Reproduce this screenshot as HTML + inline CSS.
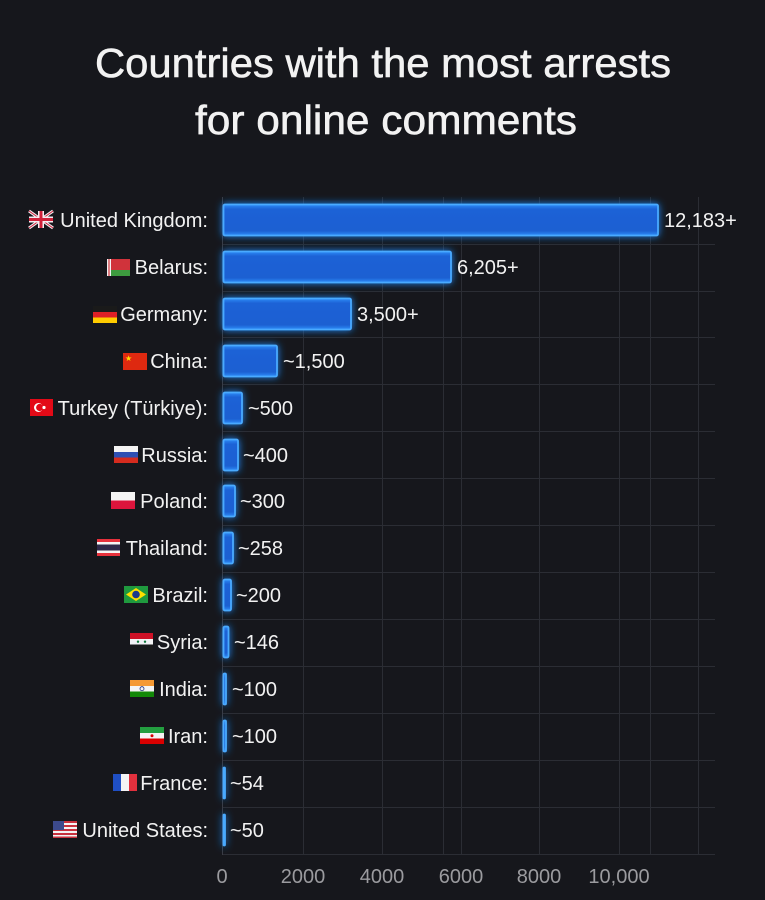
<!DOCTYPE html>
<html><head><meta charset="utf-8"><style>
html,body{margin:0;padding:0;background:#16171c;}
svg{display:block;}
text{font-family:"Liberation Sans",Arial,sans-serif;}
</style></head><body>
<svg width="765" height="900" viewBox="0 0 765 900" xmlns="http://www.w3.org/2000/svg">
<defs>
<filter id="glow" x="-50%" y="-50%" width="200%" height="200%">
<feGaussianBlur in="SourceAlpha" stdDeviation="4" result="b"/>
<feFlood flood-color="#1d8bff" flood-opacity="0.95"/>
<feComposite in2="b" operator="in" result="g"/>
<feMerge><feMergeNode in="g"/><feMergeNode in="SourceGraphic"/></feMerge>
</filter>
<linearGradient id="bar" x1="0" y1="0" x2="0" y2="1">
<stop offset="0" stop-color="#2e8cf8"/>
<stop offset="0.15" stop-color="#1d62d6"/>
<stop offset="0.85" stop-color="#1c60d2"/>
<stop offset="1" stop-color="#2e8cf8"/>
</linearGradient>
</defs>
<rect width="765" height="900" fill="#16171c"/>

<!-- Title -->
<text x="383" y="77" font-size="41" fill="#f2f2f2" stroke="#f2f2f2" stroke-width="0.6" text-anchor="middle" textLength="576" lengthAdjust="spacingAndGlyphs">Countries with the most arrests</text>
<text x="386" y="134" font-size="41" fill="#f2f2f2" stroke="#f2f2f2" stroke-width="0.6" text-anchor="middle" textLength="382" lengthAdjust="spacingAndGlyphs">for online comments</text>

<!-- Grid -->
<g stroke="#2b2d34" stroke-width="1">
<line x1="303.5" y1="197" x2="303.5" y2="855"/>
<line x1="382.5" y1="197" x2="382.5" y2="855"/>
<line x1="443.5" y1="197" x2="443.5" y2="855"/>
<line x1="461.5" y1="197" x2="461.5" y2="855"/>
<line x1="539.5" y1="197" x2="539.5" y2="855"/>
<line x1="619.5" y1="197" x2="619.5" y2="855"/>
<line x1="650.5" y1="197" x2="650.5" y2="855"/>
<line x1="698.5" y1="197" x2="698.5" y2="855"/>
<line x1="222" y1="244.5" x2="715" y2="244.5"/>
<line x1="222" y1="291.5" x2="715" y2="291.5"/>
<line x1="222" y1="337.5" x2="715" y2="337.5"/>
<line x1="222" y1="384.5" x2="715" y2="384.5"/>
<line x1="222" y1="431.5" x2="715" y2="431.5"/>
<line x1="222" y1="478.5" x2="715" y2="478.5"/>
<line x1="222" y1="525.5" x2="715" y2="525.5"/>
<line x1="222" y1="572.5" x2="715" y2="572.5"/>
<line x1="222" y1="619.5" x2="715" y2="619.5"/>
<line x1="222" y1="666.5" x2="715" y2="666.5"/>
<line x1="222" y1="713.5" x2="715" y2="713.5"/>
<line x1="222" y1="760.5" x2="715" y2="760.5"/>
<line x1="222" y1="807.5" x2="715" y2="807.5"/>
<line x1="222" y1="854.5" x2="715" y2="854.5"/>
</g>
<line x1="222.5" y1="197" x2="222.5" y2="855" stroke="#3a3c44" stroke-width="1"/>

<!-- Bars -->
<g filter="url(#glow)" fill="url(#bar)" stroke="#4aaaff" stroke-width="1.8">
<rect x="223.5" y="204.5" width="434.5" height="31" rx="1.5"/>
<rect x="223.5" y="251.5" width="227.5" height="31" rx="1.5"/>
<rect x="223.5" y="298.5" width="127.5" height="31" rx="1.5"/>
<rect x="223.5" y="345.5" width="53.5" height="31" rx="1.5"/>
<rect x="223.5" y="392.5" width="18.5" height="31" rx="1.5"/>
<rect x="223.5" y="439.5" width="14.5" height="31" rx="1.5"/>
<rect x="223.5" y="485.5" width="11.5" height="31" rx="1.5"/>
<rect x="223.5" y="532.5" width="9.5" height="31" rx="1.5"/>
<rect x="223.5" y="579.5" width="7.5" height="31" rx="1.5"/>
<rect x="223.5" y="626.5" width="5" height="31" rx="1.5"/>
<rect x="223.5" y="673.5" width="2.5" height="31" rx="1"/>
<rect x="223.5" y="720.5" width="2.5" height="31" rx="1"/>
<rect x="223.5" y="767.5" width="1.5" height="31" rx="0.7"/>
<rect x="223.5" y="814.5" width="1.5" height="31" rx="0.7"/>
</g>

<!-- Value labels -->
<g font-size="20" fill="#f2f2f2">
<text x="664" y="227">12,183+</text>
<text x="457" y="274">6,205+</text>
<text x="357" y="321">3,500+</text>
<text x="283" y="368">~1,500</text>
<text x="248" y="415">~500</text>
<text x="243" y="462">~400</text>
<text x="240" y="508">~300</text>
<text x="238" y="555">~258</text>
<text x="236" y="602">~200</text>
<text x="234" y="649">~146</text>
<text x="232" y="696">~100</text>
<text x="232" y="743">~100</text>
<text x="230" y="790">~54</text>
<text x="230" y="837">~50</text>
</g>

<!-- Country labels -->
<g font-size="20" fill="#f2f2f2" text-anchor="end">
<text x="208" y="227">United Kingdom:</text>
<text x="208" y="274">Belarus:</text>
<text x="208" y="321">Germany:</text>
<text x="208" y="368">China:</text>
<text x="208" y="415">Turkey (Türkiye):</text>
<text x="208" y="462">Russia:</text>
<text x="208" y="508">Poland:</text>
<text x="208" y="555">Thailand:</text>
<text x="208" y="602">Brazil:</text>
<text x="208" y="649">Syria:</text>
<text x="208" y="696">India:</text>
<text x="208" y="743">Iran:</text>
<text x="208" y="790">France:</text>
<text x="208" y="837">United States:</text>
</g>

<!-- Flags -->
<g transform="translate(29,211)">
<line x1="0" y1="0" x2="24" y2="17" stroke="#f4eef2" stroke-width="3"/>
<line x1="24" y1="0" x2="0" y2="17" stroke="#f4eef2" stroke-width="3"/>
<line x1="0" y1="0" x2="24" y2="17" stroke="#d0213a" stroke-width="1"/>
<line x1="24" y1="0" x2="0" y2="17" stroke="#d0213a" stroke-width="1"/>
<rect x="9" y="0" width="6" height="17" fill="#f4eef2"/>
<rect x="0" y="5.5" width="24" height="6" fill="#f4eef2"/>
<rect x="10.5" y="0" width="3" height="17" fill="#d0213a"/>
<rect x="0" y="7" width="24" height="3" fill="#d0213a"/>
</g>
<g transform="translate(107,259)">
<rect width="23" height="11" fill="#d0333b"/>
<rect y="11" width="23" height="6" fill="#3d9b3f"/>
<rect width="4" height="17" fill="#f2f2f2"/>
<rect x="1" y="0" width="2" height="17" fill="#d0333b" opacity="0.6"/>
</g>
<g transform="translate(93,306)">
<rect width="24" height="6" fill="#1a1a1a"/>
<rect y="6" width="24" height="5.5" fill="#dd1f26"/>
<rect y="11.5" width="24" height="5.5" fill="#ffcc00"/>
</g>
<g transform="translate(123,353)">
<rect width="24" height="17" fill="#de2910"/>
<text x="2" y="8" font-size="8" fill="#ffde00">★</text>
</g>
<g transform="translate(30,399)">
<rect width="23" height="17" fill="#e30a17"/>
<circle cx="8.5" cy="8.5" r="4.5" fill="#fff"/>
<circle cx="9.7" cy="8.5" r="3.6" fill="#e30a17"/>
<circle cx="14" cy="8.5" r="1.6" fill="#fff"/>
</g>
<g transform="translate(114,446)">
<rect width="24" height="6" fill="#f4f4f4"/>
<rect y="6" width="24" height="5.5" fill="#2d4fb3"/>
<rect y="11.5" width="24" height="5.5" fill="#d52b1e"/>
</g>
<g transform="translate(111,492)">
<rect width="24" height="8.5" fill="#f4f4f4"/>
<rect y="8.5" width="24" height="8.5" fill="#dc143c"/>
</g>
<g transform="translate(97,539)">
<rect width="23" height="17" fill="#e6313c"/>
<rect y="3" width="23" height="11" fill="#f4f4f4"/>
<rect y="5.5" width="23" height="6" fill="#2d2a4a"/>
</g>
<g transform="translate(124,586)">
<rect width="24" height="17" fill="#1f9a3e"/>
<polygon points="12,2 22,8.5 12,15 2,8.5" fill="#fedf00"/>
<circle cx="12" cy="8.5" r="3.8" fill="#1c3a8a"/>
</g>
<g transform="translate(130,633)">
<rect width="23" height="6" fill="#ce1126"/>
<rect y="6" width="23" height="5.5" fill="#f4f4f4"/>
<rect y="11.5" width="23" height="5.5" fill="#1a1a1a"/>
<circle cx="8" cy="8.7" r="1.2" fill="#137a3b"/>
<circle cx="15" cy="8.7" r="1.2" fill="#137a3b"/>
</g>
<g transform="translate(130,680)">
<rect width="24" height="6" fill="#f59933"/>
<rect y="6" width="24" height="5.5" fill="#f4f4f4"/>
<rect y="11.5" width="24" height="5.5" fill="#138808"/>
<circle cx="12" cy="8.7" r="2" fill="none" stroke="#1a2a7a" stroke-width="0.8"/>
</g>
<g transform="translate(140,727)">
<rect width="24" height="6" fill="#239f40"/>
<rect y="6" width="24" height="5.5" fill="#f4f4f4"/>
<rect y="11.5" width="24" height="5.5" fill="#da0000"/>
<circle cx="12" cy="8.7" r="1.5" fill="#da0000"/>
</g>
<g transform="translate(113,774)">
<rect width="8" height="17" fill="#1f4fc4"/>
<rect x="8" width="8" height="17" fill="#f4f4f4"/>
<rect x="16" width="8" height="17" fill="#e1303d"/>
</g>
<g transform="translate(53,821)">
<rect width="24" height="17" fill="#f4f4f4"/>
<rect y="0" width="24" height="2" fill="#c8313e"/>
<rect y="4" width="24" height="2" fill="#c8313e"/>
<rect y="8" width="24" height="2" fill="#c8313e"/>
<rect y="12" width="24" height="2" fill="#c8313e"/>
<rect y="15.5" width="24" height="1.5" fill="#c8313e"/>
<rect width="11" height="9" fill="#3c4a8c"/>
</g>

<!-- X axis tick labels -->
<g font-size="20" fill="#9b9b9f" text-anchor="middle">
<text x="222" y="883">0</text>
<text x="303" y="883">2000</text>
<text x="382" y="883">4000</text>
<text x="461" y="883">6000</text>
<text x="539" y="883">8000</text>
<text x="619" y="883">10,000</text>
</g>
</svg>
</body></html>
